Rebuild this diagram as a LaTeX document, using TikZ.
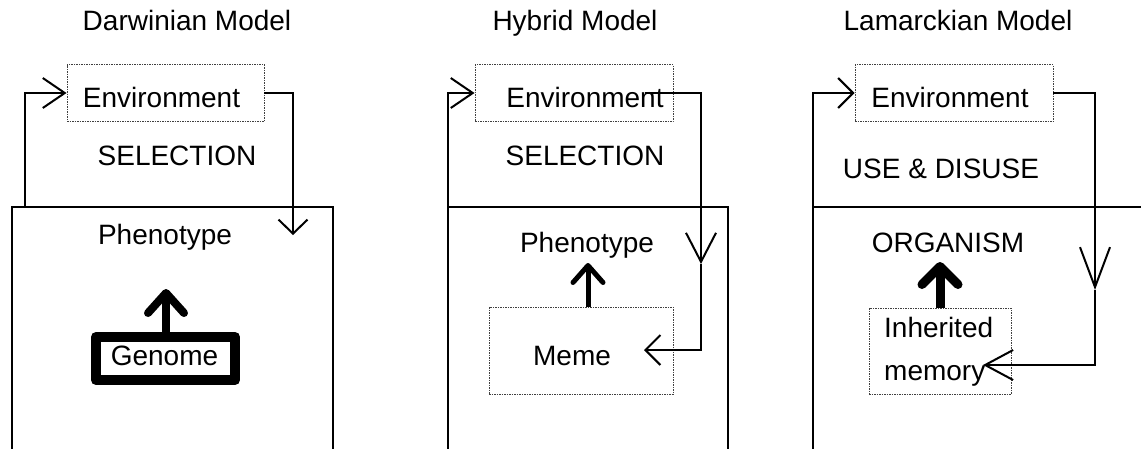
\documentclass[tikz,border=0pt]{standalone}
\usepackage{fontspec}
\setmainfont{Liberation Sans}
\usetikzlibrary{arrows.meta}
\begin{document}
\begin{tikzpicture}[x=1pt,y=-1pt,
  txt/.style={inner sep=0pt, font=\fontsize{28pt}{34pt}\selectfont, anchor=base},
  envbox/.style={draw=black!75, line width=0.9pt, dash pattern=on 1.5pt off 1pt, minimum height=57pt, inner sep=0pt},
  body/.style={draw, line width=2pt, minimum height=253pt, inner sep=0pt},
  wire/.style={line width=2pt},
  genbox/.style={draw, line width=10pt, line join=round, minimum width=139pt, minimum height=43pt, inner sep=0pt}]
\useasboundingbox (0,0) rectangle (1141,448);
% bodies
\node[body, minimum width=321pt] (b1) at (172.5,333.5) {};
\node[body, minimum width=280pt] (b2) at (588,333.5) {};
\node[body, minimum width=400pt] (b3) at (1013,333.5) {};
% titles
\node[txt] (t1) at (187,30) {Darwinian Model};
\node[txt] (t2) at (575,30) {Hybrid Model};
\node[txt] (t3) at (958,30) {Lamarckian Model};
% environment boxes
\node[envbox, minimum width=197pt] (e1) at (165.5,93) {};
\node[txt] (e1t) at (161.5,107) {Environment};
\node[envbox, minimum width=198pt] (e2) at (574,93) {};
\node[txt] (e2t) at (585,107) {Environment};
\node[envbox, minimum width=198pt] (e3) at (954,93) {};
\node[txt] (e3t) at (950,107) {Environment};
% labels
\node[txt] (s1) at (177,165) {SELECTION};
\node[txt] (s2) at (585,165) {SELECTION};
\node[txt] (s3) at (941,178) {USE \& DISUSE};
\node[txt] (p1) at (165,244) {Phenotype};
\node[txt] (p2) at (587,252) {Phenotype};
\node[txt] (p3) at (948,252) {ORGANISM};
% inner boxes
\node[genbox] (g1) at (165.5,358.5) {};
\node[txt] (g1t) at (164.5,365) {Genome};
\node[envbox, minimum width=184pt, minimum height=87pt] (m2) at (581,350.5) {};
\node[txt] (m2t) at (572,365) {Meme};
\node[envbox, minimum width=142pt, minimum height=86pt] (m3) at (940,351) {};
\node[txt, anchor=base west] (m3a) at (884,337) {Inherited};
\node[txt, anchor=base west] (m3b) at (884,380) {memory};
% coordinates
\coordinate (f1) at (25,207);
\coordinate (f2) at (448,207);
\coordinate (f3) at (813,207);
\coordinate (d1) at (293,235);
\coordinate (s2s) at (645,93);
\coordinate (d2) at (701,264);
\coordinate (k2) at (644,350);
\coordinate (d3) at (1095,290);
\coordinate (k3) at (983,365);
\coordinate (u1) at (166,289);
\coordinate (u2) at (588,263);
\coordinate (u3) at (940,262);
% connectors
\draw[wire, -{Straight Barb[length=22pt,width=30pt]}] (f1) |- (e1.west);
\draw[wire, -{Straight Barb[length=14pt,width=29pt]}] (e1.east) -| (d1);
\draw[wire, -{Straight Barb[length=22pt,width=30pt]}] (f2) |- (e2.west);
\draw[wire, -{Straight Barb[length=29pt,width=30pt]}] (s2s) -| (d2);
\draw[wire, -{Straight Barb[length=15pt,width=30pt]}] (d2) |- (k2);
\draw[wire, -{Straight Barb[length=15pt,width=30pt]}] (f3) |- (e3.west);
\draw[wire, -{Straight Barb[length=40pt,width=30pt]}] (e3.east) -| (d3);
\draw[wire, -{Straight Barb[length=28pt,width=30pt]}] (d3) |- (k3);
% thick arrows
\draw[line width=8pt, -{Straight Barb[length=20pt,width=36pt,round]}] (u1 |- g1.north) -- (u1);
\draw[line width=5pt, -{Straight Barb[length=17pt,width=30pt,round]}] (u2 |- m2.north) -- (u2);
\draw[line width=9pt, -{Straight Barb[length=18pt,width=36pt,round]}] (u3 |- m3.north) -- (u3);
\end{tikzpicture}
\end{document}
